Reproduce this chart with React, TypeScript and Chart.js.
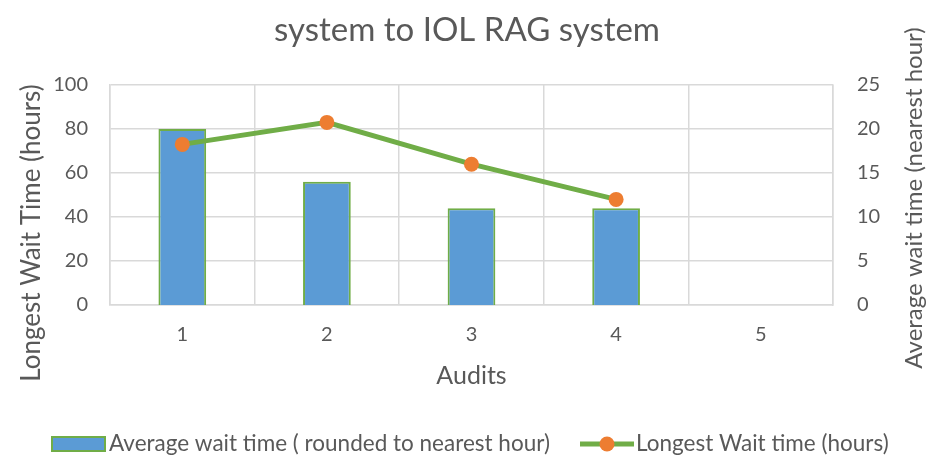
import React, { useEffect, useRef } from "react";
import { Chart, registerables } from "chart.js";

Chart.register(...registerables);

const categories = ["1", "2", "3", "4", "5"];
const averageWait = [20, 14, 11, 11, null];
const longestWait = [73, 83, 64, 48, null];
const leftTicks = [0, 20, 40, 60, 80, 100];
const rightTicks = [0, 5, 10, 15, 20, 25];

const titleText = "system to IOL RAG system";
const leftAxisTitle = "Longest Wait Time (hours)";
const rightAxisTitle = "Average wait time (nearest hour)";
const xAxisTitle = "Audits";
const barLabel = "Average wait time ( rounded to nearest hour)";
const lineLabel = "Longest Wait time (hours)";

const FONT = "Lato, 'Open Sans', sans-serif";
const TEXT = "#595959";
const GRID = "#D9D9D9";
const BLUE = "#5B9BD5";
const GREEN = "#70AD47";
const ORANGE = "#ED7D31";

const textPlugin = {
  id: "textPlugin",
  afterDraw(chart: any) {
    const ctx = chart.ctx as CanvasRenderingContext2D;
    const area = chart.chartArea;
    ctx.save();
    ctx.fillStyle = TEXT;
    // title
    ctx.font = `33px ${FONT}`;
    ctx.textAlign = "center";
    ctx.textBaseline = "middle";
    ctx.fillText(titleText, 467, 30);
    // x title
    ctx.font = `25px ${FONT}`;
    ctx.fillText(xAxisTitle, (area.left + area.right) / 2, 376);
    // left axis title
    ctx.save();
    ctx.font = `26px ${FONT}`;
    ctx.translate(32, 233);
    ctx.rotate(-Math.PI / 2);
    ctx.fillText(leftAxisTitle, 0, 0);
    ctx.restore();
    // right axis title
    ctx.save();
    ctx.font = `24px ${FONT}`;
    ctx.translate(914, 198);
    ctx.rotate(-Math.PI / 2);
    ctx.fillText(rightAxisTitle, 0, 0);
    ctx.restore();
    // legend
    const ly = 444;
    ctx.fillStyle = BLUE;
    ctx.fillRect(52, 437, 53, 14);
    ctx.strokeStyle = GREEN;
    ctx.lineWidth = 2;
    ctx.strokeRect(52, 437, 53, 14);
    ctx.fillStyle = TEXT;
    ctx.font = `22.5px ${FONT}`;
    ctx.textAlign = "left";
    ctx.fillText(barLabel, 109, ly);
    ctx.strokeStyle = GREEN;
    ctx.lineWidth = 5;
    ctx.beginPath();
    ctx.moveTo(580, ly);
    ctx.lineTo(634, ly);
    ctx.stroke();
    ctx.fillStyle = ORANGE;
    ctx.beginPath();
    ctx.arc(607, ly, 7.5, 0, Math.PI * 2);
    ctx.fill();
    ctx.fillStyle = TEXT;
    ctx.fillText(lineLabel, 636, ly);
    ctx.restore();
  },
};

export default function App() {
  const ref = useRef<HTMLCanvasElement | null>(null);
  useEffect(() => {
    if (!ref.current) return;
    const chart = new Chart(ref.current, {
      type: "bar",
      data: {
        labels: categories,
        datasets: [
          {
            type: "line",
            label: lineLabel,
            data: longestWait,
            yAxisID: "y",
            borderColor: GREEN,
            borderWidth: 5,
            pointBackgroundColor: ORANGE,
            pointBorderColor: ORANGE,
            pointRadius: 7.5,
            pointBorderWidth: 0,
            tension: 0,
            order: 0,
          } as any,
          {
            type: "bar",
            label: barLabel,
            data: averageWait,
            yAxisID: "y1",
            backgroundColor: BLUE,
            borderColor: GREEN,
            borderWidth: 2,
            borderSkipped: "bottom",
            barPercentage: 0.33,
            categoryPercentage: 1,
            order: 1,
          },
        ],
      },
      options: {
        responsive: false,
        animation: false,
        layout: { padding: { top: 85, left: 0, right: 0, bottom: 0 } },
        plugins: { legend: { display: false }, tooltip: { enabled: false }, title: { display: false } },
        scales: {
          x: {
            offset: true,
            grid: { color: GRID, lineWidth: 1.5, offset: true, drawTicks: false },
            border: { color: GRID, width: 1.5 },
            ticks: { color: TEXT, font: { family: FONT, size: 20 }, padding: 18 },
            afterFit: (s: any) => { s.height = 456 - 85 - 220; },
          },
          y: {
            position: "left",
            min: 0,
            max: 100,
            afterBuildTicks: (s: any) => { s.ticks = leftTicks.map((v) => ({ value: v })); },
            grid: { color: GRID, lineWidth: 1.5, drawTicks: false },
            border: { color: GRID, width: 1.5 },
            ticks: { color: TEXT, font: { family: FONT, size: 20 }, padding: 22 },
            afterFit: (s: any) => { s.width = 110; },
          },
          y1: {
            position: "right",
            min: 0,
            max: 25,
            afterBuildTicks: (s: any) => { s.ticks = rightTicks.map((v) => ({ value: v })); },
            grid: { display: false, drawTicks: false },
            border: { color: GRID, width: 1.5 },
            ticks: { color: TEXT, font: { family: FONT, size: 20 }, padding: 24 },
            afterFit: (s: any) => { s.width = 112; },
          },
        },
      },
      plugins: [textPlugin],
    });
    return () => chart.destroy();
  }, []);
  return (
    <div style={{ position: "absolute", left: 0, top: 0, width: 945, height: 456, background: "#fff" }}>
      <canvas ref={ref} width={945} height={456} style={{ width: 945, height: 456 }} />
    </div>
  );
}
